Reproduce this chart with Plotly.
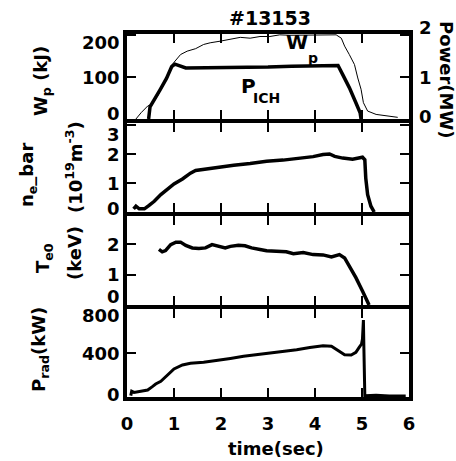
import plotly.graph_objects as go

# ---------------- data ----------------
shot_label = "#13153"

# stored energy W_p (kJ)
t_wp = [0.19, 0.30, 0.44, 0.54, 0.65, 0.75, 0.86, 0.96, 1.04, 1.14, 1.28, 1.46,
        1.63, 1.77, 1.99, 2.20, 2.41, 2.62, 2.83, 3.04, 3.25, 3.46, 3.68, 3.89,
        4.17, 4.45, 4.56, 4.63, 4.73, 4.84, 4.91, 4.98, 5.03, 5.12, 5.30, 5.51,
        5.68, 5.76]
wp = [0, 15, 31, 36, 55, 75, 98, 130, 142, 154, 162, 168,
      178, 182, 186, 191, 195, 193, 197, 197, 201, 200, 200, 200,
      201, 201, 193, 174, 154, 130, 98, 71, 39, 19, 11, 7,
      5, 4]

# ICH power (MW)
t_ich = [0.46, 0.49, 0.70, 0.84, 0.95, 1.02, 1.25, 1.60, 2.00, 2.50, 3.00,
         3.50, 4.00, 4.49, 4.59, 4.73, 4.87, 4.96, 4.98]
p_ich = [0.0, 0.29, 0.69, 0.97, 1.25, 1.31, 1.22, 1.22, 1.22, 1.23, 1.24,
         1.26, 1.27, 1.28, 1.06, 0.75, 0.39, 0.15, 0.0]

# line averaged density (1e19 m^-3)
t_ne = [0.14, 0.19, 0.26, 0.37, 0.47, 0.58, 0.72, 0.86, 1.00, 1.18, 1.35, 1.46,
        1.70, 1.99, 2.27, 2.62, 2.97, 3.32, 3.68, 3.96, 4.17, 4.31, 4.42, 4.59,
        4.80, 5.01, 5.06, 5.08, 5.12, 5.19, 5.26]
ne = [0.11, 0.20, 0.11, 0.11, 0.23, 0.37, 0.60, 0.80, 0.97, 1.14, 1.34, 1.43,
      1.49, 1.56, 1.61, 1.67, 1.75, 1.79, 1.85, 1.91, 1.98, 2.00, 1.92, 1.86,
      1.82, 1.89, 1.80, 1.17, 0.60, 0.20, 0.0]

# central electron temperature (keV)
t_te = [0.68, 0.75, 0.82, 0.93, 1.04, 1.14, 1.25, 1.39, 1.53, 1.67, 1.81, 1.95,
        2.09, 2.20, 2.37, 2.51, 2.65, 2.83, 2.97, 3.18, 3.39, 3.54, 3.75, 3.96,
        4.17, 4.35, 4.52, 4.63, 4.73, 4.87, 5.01, 5.15]
te = [1.83, 1.75, 1.79, 1.99, 2.07, 2.07, 1.96, 1.88, 1.86, 1.88, 1.99, 1.93,
      1.88, 1.93, 1.97, 1.95, 1.88, 1.83, 1.79, 1.77, 1.75, 1.69, 1.73, 1.66,
      1.65, 1.58, 1.66, 1.55, 1.28, 0.90, 0.46, 0.0]

# radiated power (kW)
t_rad = [0.08, 0.10, 0.15, 0.30, 0.44, 0.54, 0.61, 0.72, 0.86, 1.00, 1.18, 1.35,
         1.63, 1.92, 2.20, 2.48, 2.76, 3.04, 3.32, 3.61, 3.89, 4.17, 4.35, 4.49,
         4.63, 4.77, 4.87, 4.94, 4.99, 5.01, 5.03, 5.04, 5.06, 5.30, 5.58, 5.93]
prad = [12, 52, 42, 52, 64, 94, 118, 142, 194, 255, 291, 306,
        315, 330, 351, 370, 385, 400, 412, 430, 451, 467, 461, 421,
        385, 382, 406, 451, 482, 527, 700, 450, 12, 15, 9, 9]

# tick values
time_ticks = [0, 1, 2, 3, 4, 5, 6]
wp_ticks = [0, 100, 200]
pow_ticks = [0, 1, 2]
ne_ticks = [0, 1, 2, 3]
te_ticks = [0, 1, 2, 3]
prad_ticks = [0, 400, 800]

# ---------------- layout helpers ----------------
W, H = 456, 461
ML, MR, MT, MB = 127, 47, 34, 64
PW, PH = W - ML - MR, H - MT - MB
FONT = "DejaVu Sans"


def pxx(x):
    return (x - ML) / PW


def pxy(y):
    return (H - MB - y) / PH


def f(size):
    return dict(family=FONT, size=size, color="black", weight="bold")


fig = go.Figure()
blk = "black"
fig.add_trace(go.Scatter(x=t_wp, y=wp, mode="lines", line=dict(color=blk, width=1),
                         xaxis="x", yaxis="y", showlegend=False))
fig.add_trace(go.Scatter(x=t_ich, y=p_ich, mode="lines", line=dict(color=blk, width=3.5),
                         xaxis="x", yaxis="y5", showlegend=False))
fig.add_trace(go.Scatter(x=t_ne, y=ne, mode="lines", line=dict(color=blk, width=3.5),
                         xaxis="x2", yaxis="y2", showlegend=False))
fig.add_trace(go.Scatter(x=t_te, y=te, mode="lines", line=dict(color=blk, width=3.5),
                         xaxis="x3", yaxis="y3", showlegend=False))
fig.add_trace(go.Scatter(x=t_rad, y=prad, mode="lines", line=dict(color=blk, width=3),
                         xaxis="x4", yaxis="y4", showlegend=False))

domains = [[0.7658, 1.0], [0.5096, 0.7548], [0.2534, 0.4986], [0.0, 0.2424]]
ranges = [[0, 203], [0, 3.07], [0, 2.93], [0, 800]]
ytick_sets = [wp_ticks, ne_ticks, te_ticks, prad_ticks]

axcommon = dict(showline=True, linecolor=blk, linewidth=4, ticks="inside",
                ticklen=9, tickwidth=2, tickcolor=blk, showgrid=False,
                zeroline=False, automargin=False)

lay = {}
for i in range(4):
    xn = "xaxis" if i == 0 else f"xaxis{i+1}"
    yn = "yaxis" if i == 0 else f"yaxis{i+1}"
    ysuf = "y" if i == 0 else f"y{i+1}"
    xsuf = "x" if i == 0 else f"x{i+1}"
    lay[xn] = dict(axcommon, domain=[0, 1], anchor=ysuf, range=[0, 6],
                   tickvals=time_ticks, mirror="ticks",
                   showticklabels=(i == 3), tickfont=f(18),
                   ticklabelstandoff=7)
    lay[yn] = dict(axcommon, domain=domains[i], anchor=xsuf, range=ranges[i],
                   tickvals=ytick_sets[i], mirror=(True if i == 0 else "ticks"),
                   showticklabels=False)
lay["yaxis5"] = dict(axcommon, overlaying="y", side="right", anchor="x",
                     range=[0, 2.03], tickvals=pow_ticks, showticklabels=False)

fig.update_layout(**lay)

ann = []
# left tick labels (edge labels nudged inward like the reference)
shifts = [
    {0: 6, 100: 0, 200: -7},
    {0: 4, 1: 0, 2: 0, 3: -9},
    {0: 9, 1: 0, 2: 0, 3: -10},
    {0: 2, 400: 0, 800: -6},
]
for i in range(4):
    ysuf = "y" if i == 0 else f"y{i+1}"
    for v in ytick_sets[i]:
        ann.append(dict(xref="paper", yref=ysuf, x=0, y=v, text=str(v),
                        xanchor="right", yanchor="middle", xshift=-5,
                        yshift=shifts[i][v], showarrow=False, font=f(18)))
# right tick labels (power)
rshift = {0: 3, 1: 0, 2: 8}
for v in pow_ticks:
    ann.append(dict(xref="paper", yref="y5", x=1, y=v, text=str(v),
                    xanchor="left", yanchor="middle", xshift=8,
                    yshift=rshift[v], showarrow=False, font=f(18)))


def label(x, y, text, size, angle=0):
    ann.append(dict(xref="paper", yref="paper", x=pxx(x), y=pxy(y), text=text,
                    xanchor="center", yanchor="middle", textangle=angle,
                    showarrow=False, font=f(size)))


# title and axis titles
label(270, 18, shot_label, 19)
label(276, 448, "time(sec)", 18)
label(42, 81, "W<sub>p</sub> (kJ)", 18, -90)
label(28, 175, "n<sub>e</sub>_bar", 18, -90)
label(74, 167, "(10<sup>19</sup>m<sup>-3</sup>)", 18, -90)
label(44, 258, "T<sub>e0</sub>", 18, -90)
label(74, 253, "(keV)", 18, -90)
label(40, 350, "P<sub>rad</sub>(kW)", 18, -90)
label(446, 80, "Power(MW)", 18, 90)
# in-plot labels
label(297, 42.5, "W", 20)
label(313, 58, "p", 14)
label(248, 86, "P", 20)
label(266.5, 98, "ICH", 14)

fig.update_layout(
    template="none",
    width=W, height=H,
    margin=dict(l=ML, r=MR, t=MT, b=MB, pad=0),
    paper_bgcolor="white", plot_bgcolor="white",
    font=f(18),
    annotations=ann,
    showlegend=False,
)

fig.write_html("out.html", config={"displayModeBar": False},
               post_script="document.body.style.margin='0';")
